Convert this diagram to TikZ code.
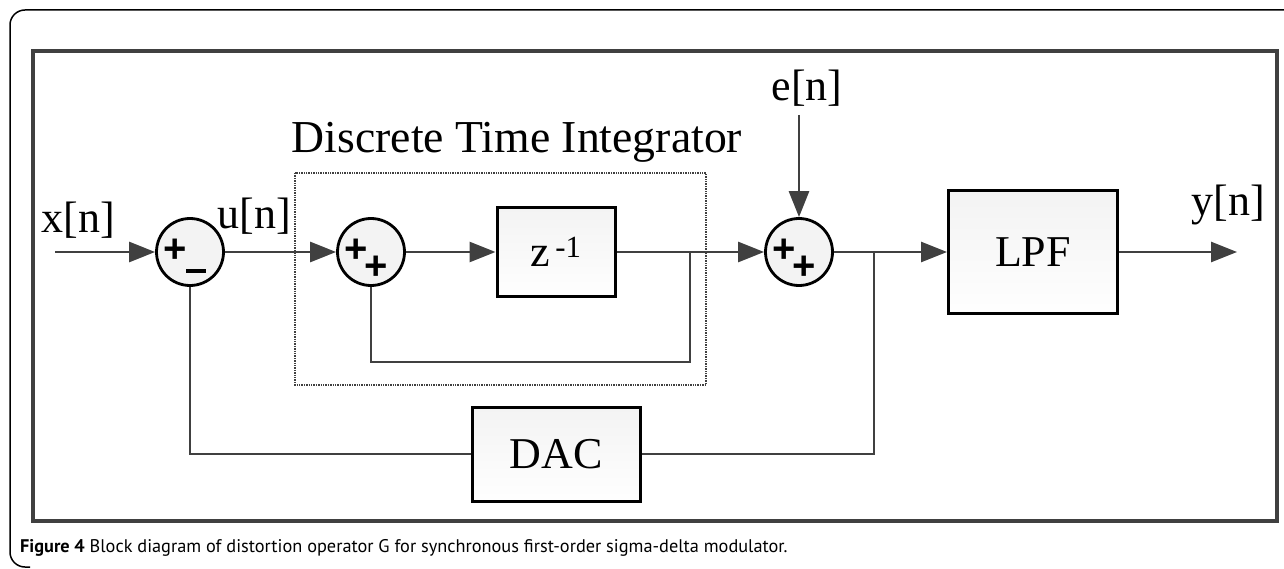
\documentclass[tikz,border=0pt]{standalone}
\usepackage{fontspec}
\setmainfont{Liberation Serif}
\newfontfamily\signfont{Liberation Sans}
\newfontfamily\capfont{PT Sans}
\usepackage{tikz}
\usetikzlibrary{arrows.meta,positioning}

\definecolor{wiregray}{HTML}{404040}
\definecolor{boxfill}{HTML}{F3F3F3}

\tikzset{
    wire/.style={draw=wiregray, line width=2.8pt},
    sig/.style={wire, -{Triangle[length=26pt,width=20pt]}},
    block/.style={draw=black, line width=3pt, top color=boxfill, bottom color=white!95!boxfill, inner sep=0pt},
    sumnode/.style={circle, draw=black, line width=2.8pt, fill=boxfill, minimum size=67pt, inner sep=0pt},
    signs/.style={font=\signfont\bfseries\fontsize{40}{40}\selectfont, inner sep=0pt},
    lbl/.style={font=\fontsize{44}{48}\selectfont, inner sep=0pt}
}

\begin{document}
\begin{tikzpicture}[x=1pt, y=-1pt, node distance=180pt]
    \useasboundingbox (0,0) rectangle (1284,569);
    % frames
    \draw[line width=1.5pt, rounded corners=15pt] (1290,10) -- (10,10) -- (10,567) -- (30,567);
    \draw[draw=wiregray, line width=4.5pt] (33,51) rectangle (1277,521);

    % forward path
    \node[sumnode, label={[signs,xshift=-15pt,yshift=1pt]center:+}, label={[signs,xshift=6pt,yshift=-19pt]center:\rule{20pt}{3.2pt}}] (sum1) at (190,252) {};
    \node[sumnode, label={[signs,xshift=-15pt,yshift=1pt]center:+}, label={[signs,xshift=5pt,yshift=-16pt]center:+}] (sum2) [right of=sum1, node distance=181pt] {};
    \node[block, minimum width=118pt, minimum height=89pt, lbl] (zdel) [right of=sum2, node distance=185pt] {z\textsuperscript{\,-1}};
    \node[sumnode, label={[signs,xshift=-15pt,yshift=1pt]center:+}, label={[signs,xshift=5pt,yshift=-16pt]center:+}] (sum3) [right of=zdel, node distance=243pt] {};
    \node[block, minimum width=169pt, minimum height=123pt, lbl] (lpf) [right of=sum3, node distance=234pt] {LPF};
    \node[block, minimum width=168pt, minimum height=94pt, lbl] (dac) [below of=zdel, node distance=202pt] {DAC};

    \coordinate (xin) at (55,252);
    \coordinate (yout) at (1237,252);
    \coordinate (ein) at (799,115);
    \coordinate (j1) at (690,252);
    \coordinate (j2) at (874,252);
    \coordinate (fb1) at (371,362);

    % labels
    \node[lbl] (xlab) at (78,220) {x[n]};
    \node[lbl] (ulab) at (254,216) {u[n]};
    \node[lbl] (elab) at (807,88) {e[n]};
    \node[lbl] (ylab) at (1228,205) {y[n]};
    \node[lbl, font=\fontsize{45.7}{48}\selectfont] (title) at (517,142) {Discrete Time Integrator};

    % integrator box
    \draw[draw=wiregray, line width=1.4pt, densely dotted] (295,173) rectangle (706,385);

    % connections
    \draw[sig] (xin) -- (sum1);
    \draw[sig] (sum1) -- (sum2);
    \draw[sig] (sum2) -- (zdel);
    \draw[sig] (zdel) -- (sum3);
    \draw[sig] (ein) -- (sum3);
    \draw[sig] (sum3) -- (lpf);
    \draw[sig] (lpf) -- (yout);
    \draw[wire] (j1) |- (fb1) -- (sum2);
    \draw[wire] (j2) |- (dac);
    \draw[wire] (dac) -| (sum1);

    % caption
    \node[anchor=west, inner sep=0pt, font=\capfont\fontsize{18.3}{20}\selectfont] (cap) at (20,548) {\textbf{Figure 4} Block diagram of distortion operator G for synchronous first-order sigma-delta modulator.};
\end{tikzpicture}
\end{document}
